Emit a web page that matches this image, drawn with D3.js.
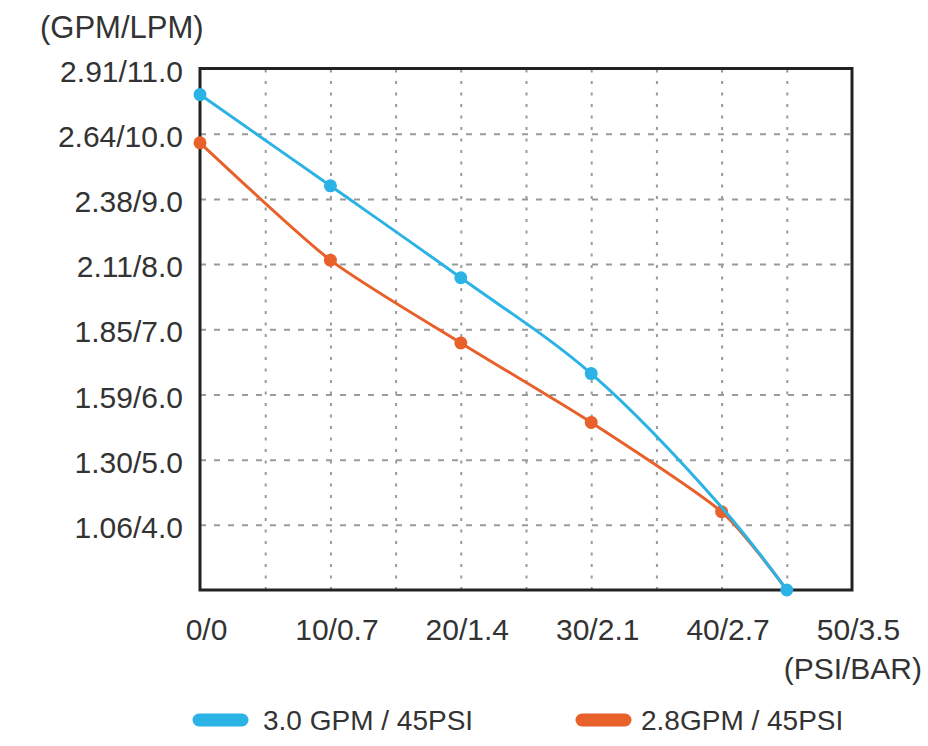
<!DOCTYPE html>
<html>
<head>
<meta charset="utf-8">
<script src="https://cdn.jsdelivr.net/npm/d3@7"></script>
<style>
  html, body { margin: 0; padding: 0; background: #fff; }
  svg { display: block; }
  text { font-family: "Liberation Sans", Arial, Helvetica, sans-serif; fill: #333; }
</style>
</head>
<body>
<svg id="chart" width="928" height="746"></svg>
<script>
// ---- data ----
const pressurePSI = [0, 10, 20, 30, 40, 45];
const flowBlue = [10.60, 9.20, 7.79, 6.32, 4.27, 3.0];     // 3.0 GPM / 45PSI (LPM)
const blueMarkers = [true, true, true, true, false, true];
const flowOrange = [9.86, 8.06, 6.79, 5.57, 4.20, 3.0];    // 2.8GPM / 45PSI (LPM)
const orangeMarkers = [true, true, true, true, true, false];

const xTickValues = [0, 10, 20, 30, 40, 50];
const xTickLabels = ["0/0", "10/0.7", "20/1.4", "30/2.1", "40/2.7", "50/3.5"];
const yTickValues = [11, 10, 9, 8, 7, 6, 5, 4];
const yTickLabels = ["2.91/11.0", "2.64/10.0", "2.38/9.0", "2.11/8.0", "1.85/7.0", "1.59/6.0", "1.30/5.0", "1.06/4.0"];
const xGridValues = [5, 10, 15, 20, 25, 30, 35, 40, 45];
const yGridValues = [4, 5, 6, 7, 8, 9, 10];

const seriesNames = ["3.0 GPM / 45PSI", "2.8GPM / 45PSI"];
const seriesColors = ["#2ab3e4", "#e8602a"];

// ---- layout ----
const svg = d3.select("#chart");
const pL = 200, pR = 852, pT = 68.5, pB = 590;
const x = d3.scaleLinear().domain([0, 50]).range([pL, pR]);
const y = d3.scaleLinear().domain([3, 11]).range([pB, pT]);
const FONT = "'Liberation Sans', Arial, sans-serif";

// grid
const gridV = svg.append("g").attr("transform", `translate(0,${pB})`)
  .call(d3.axisBottom(x).tickValues(xGridValues).tickSize(-(pB - pT)).tickFormat(""));
gridV.select(".domain").remove();
gridV.selectAll("line").attr("stroke", "#9a9a9a").attr("stroke-width", 2).attr("stroke-dasharray", "3,8.5");

const gridH = svg.append("g").attr("transform", `translate(${pL},0)`)
  .call(d3.axisLeft(y).tickValues(yGridValues).tickSize(-(pR - pL)).tickFormat(""));
gridH.select(".domain").remove();
gridH.selectAll("line").attr("stroke", "#9a9a9a").attr("stroke-width", 2).attr("stroke-dasharray", "6,8");

// frame
svg.append("rect").attr("x", pL).attr("y", pT).attr("width", pR - pL).attr("height", pB - pT)
  .attr("fill", "none").attr("stroke", "#222").attr("stroke-width", 3);

// axes labels
const xAxis = svg.append("g").attr("transform", `translate(0,${pB})`)
  .call(d3.axisBottom(x).tickValues(xTickValues).tickSize(0).tickPadding(29)
    .tickFormat((d, i) => xTickLabels[i]));
xAxis.select(".domain").remove();
xAxis.selectAll("text").attr("font-size", 30).attr("dx", 6).attr("fill", "#333")
  .style("font-family", FONT);

const yAxis = svg.append("g").attr("transform", `translate(${pL},0)`)
  .call(d3.axisLeft(y).tickValues(yTickValues).tickSize(0).tickPadding(17)
    .tickFormat((d, i) => yTickLabels[i]));
yAxis.select(".domain").remove();
yAxis.selectAll("text").attr("font-size", 30).attr("dy", "0.42em").attr("fill", "#333")
  .style("font-family", FONT);

svg.append("text").attr("x", 40).attr("y", 38).attr("font-size", 31).text("(GPM/LPM)");
svg.append("text").attr("x", 922).attr("y", 679).attr("font-size", 30).attr("text-anchor", "end").text("(PSI/BAR)");

// lines
const series = [
  { vals: flowOrange, marks: orangeMarkers, color: seriesColors[1], curve: d3.curveCardinal.tension(0.35) },
  { vals: flowBlue, marks: blueMarkers, color: seriesColors[0], curve: d3.curveCatmullRom.alpha(0.5) }
];
series.forEach(s => {
  const line = d3.line().x(d => x(d[0])).y(d => y(d[1])).curve(s.curve);
  const pts = pressurePSI.map((p, i) => [p, s.vals[i], s.marks[i]]);
  svg.append("path").datum(pts).attr("d", line).attr("fill", "none")
    .attr("stroke", s.color).attr("stroke-width", 3);
  svg.append("g").selectAll("circle").data(pts.filter(d => d[2])).join("circle")
    .attr("cx", d => x(d[0])).attr("cy", d => y(d[1])).attr("r", 6.5).attr("fill", s.color);
});

// legend
const legendItems = [
  { name: seriesNames[0], color: seriesColors[0], x0: 199, tx: 263 },
  { name: seriesNames[1], color: seriesColors[1], x0: 582, tx: 641 }
];
const lg = svg.append("g");
legendItems.forEach(it => {
  lg.append("line").attr("x1", it.x0).attr("x2", it.x0 + 43).attr("y1", 720).attr("y2", 720)
    .attr("stroke", it.color).attr("stroke-width", 13).attr("stroke-linecap", "round");
  lg.append("text").attr("x", it.tx).attr("y", 730).attr("font-size", 28).text(it.name);
});
</script>
</body>
</html>
